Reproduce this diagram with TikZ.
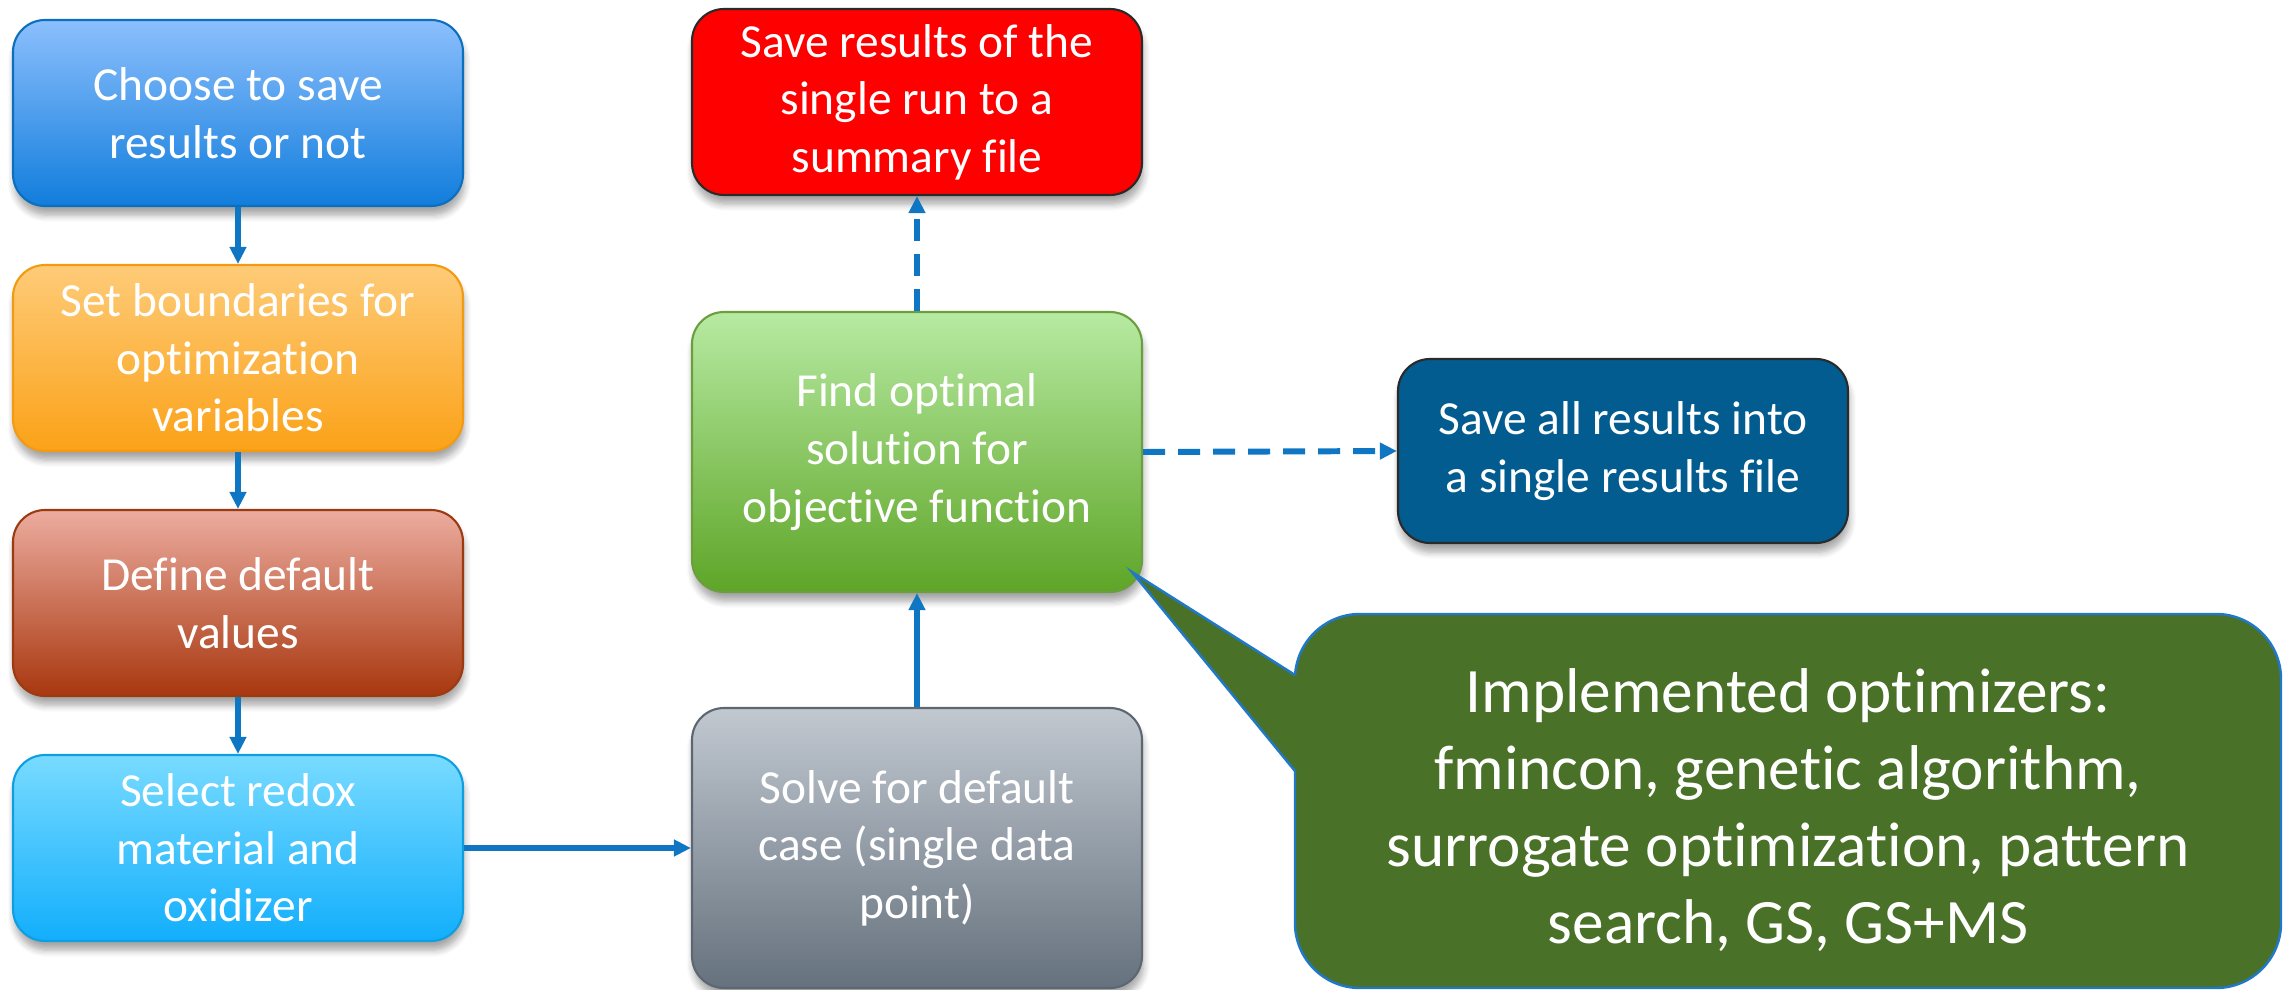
\documentclass[tikz,border=0pt]{standalone}
\usepackage{fontspec}
\setmainfont[Ligatures={NoCommon}]{Carlito}
\usetikzlibrary{arrows.meta,shadows.blur}

\definecolor{linkblue}{HTML}{0E76C3}
\definecolor{chooseTop}{HTML}{8CBFFD}
\definecolor{chooseBot}{HTML}{117DDC}
\definecolor{chooseLine}{HTML}{0B6FBE}
\definecolor{boundTop}{HTML}{FECB78}
\definecolor{boundBot}{HTML}{FBA218}
\definecolor{boundLine}{HTML}{F29A12}
\definecolor{defTop}{HTML}{ECAC9F}
\definecolor{defBot}{HTML}{A8370F}
\definecolor{defLine}{HTML}{9C3A10}
\definecolor{selTop}{HTML}{78DBFF}
\definecolor{selBot}{HTML}{12AEFC}
\definecolor{selLine}{HTML}{0F9FE0}
\definecolor{findTop}{HTML}{B7EAA2}
\definecolor{findBot}{HTML}{5EA527}
\definecolor{findLine}{HTML}{6A9E3E}
\definecolor{solveTop}{HTML}{C1C8D0}
\definecolor{solveBot}{HTML}{65717D}
\definecolor{solveLine}{HTML}{5C6772}
\definecolor{saveRed}{HTML}{FF0000}
\definecolor{saveBlue}{HTML}{035C8F}
\definecolor{darkLine}{HTML}{2A2A2A}
\definecolor{calloutGreen}{HTML}{497128}
\definecolor{calloutLine}{HTML}{1F78C8}

\begin{document}
\begin{tikzpicture}[
  flowbox/.style={rounded corners=0.32cm, minimum width=4.5cm, minimum height=1.86cm,
    inner sep=0pt, align=center, text=white, line width=0.6pt,
    font=\fontsize{13.5}{16.4}\selectfont,
    blur shadow={shadow xshift=0.4pt, shadow yshift=-2.6pt, shadow blur steps=6, shadow opacity=35}},
  tallbox/.style={flowbox, minimum height=2.80cm},
  link/.style={draw=linkblue, line width=1.7pt, -{Triangle[length=0.17cm,width=0.16cm]}},
  dashlink/.style={link, dash pattern=on 0.22cm off 0.13cm},
  callout/.style={rounded corners=0.65cm, minimum width=9.86cm, minimum height=3.74cm,
    inner sep=0pt, align=center, text=white, fill=calloutGreen, draw=calloutLine,
    line width=0.7pt, font=\fontsize{18}{21.9}\selectfont}
]
\useasboundingbox (0,0) rectangle (22.85,-9.90);

% left column
\node[flowbox, top color=chooseTop, bottom color=chooseBot, draw=chooseLine]
  (choose) at (2.38,-1.13) {Choose to save\\results or not};
\node[flowbox, top color=boundTop, bottom color=boundBot, draw=boundLine]
  (bounds) at (2.38,-3.58) {Set boundaries for\\optimization\\variables};
\node[flowbox, top color=defTop, bottom color=defBot, draw=defLine]
  (defaults) at (2.38,-6.03) {Define default\\values};
\node[flowbox, top color=selTop, bottom color=selBot, draw=selLine]
  (select) at (2.38,-8.48) {Select redox\\material and\\oxidizer};

% middle column
\node[flowbox, fill=saveRed, draw=darkLine]
  (summary) at (9.17,-1.02) {Save results of the\\single run to a\\summary file};
\node[tallbox, top color=findTop, bottom color=findBot, draw=findLine]
  (find) at (9.17,-4.52) {Find optimal\\solution for\\objective function};
\node[tallbox, top color=solveTop, bottom color=solveBot, draw=solveLine]
  (solve) at (9.17,-8.48) {Solve for default\\case (single data\\point)};

% right side
\node[flowbox, minimum height=1.84cm, fill=saveBlue, draw=darkLine]
  (allres) at (16.23,-4.51) {Save all results into\\a single results file};

% connectors
\draw[link] (choose) -- (bounds);
\draw[link] (bounds) -- (defaults);
\draw[link] (defaults) -- (select);
\draw[link] (select.east) -- (solve.west);
\draw[link] (solve) -- (find);
\draw[dashlink] (find) -- (summary);
\draw[dashlink] (find.east) -- (allres.west);

% callout with its pointer
\node[callout] (optimizers) at (17.88,-8.01) {};
\node[align=center, text=white, font=\fontsize{18}{21.9}\selectfont, inner sep=0pt]
  (optlist) at ([yshift=-0.09cm]optimizers.center)
  {Implemented optimizers:\\fmincon, genetic algorithm,\\surrogate optimization, pattern\\search, GS, GS+MS};
\coordinate (tip) at (11.32,-5.72);
\coordinate (b1) at (12.95,-6.75);
\coordinate (b2) at (12.95,-7.71);
\fill[calloutGreen] (tip) -- (b1) -- ([xshift=1.5mm]b1) -- ([xshift=1.5mm]b2) -- (b2) -- cycle;
\draw[calloutLine, line width=0.7pt] (b1) -- (tip) -- (b2);
\end{tikzpicture}
\end{document}
